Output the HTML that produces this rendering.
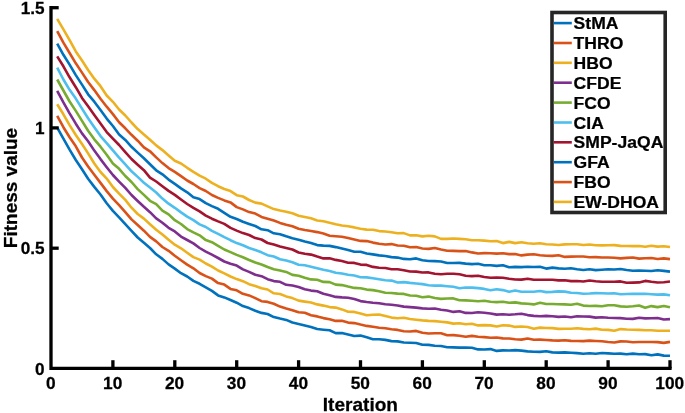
<!DOCTYPE html><html><head><meta charset="utf-8"><title>Fitness value vs Iteration</title>
<style>html,body{margin:0;padding:0;background:#fff;}svg{display:block;}text{font-family:"Liberation Sans",Arial,Helvetica,sans-serif;font-weight:bold;fill:#000;stroke:#000;stroke-width:0.25px;}</style></head><body>
<svg width="685" height="413" viewBox="0 0 685 413">
<rect width="685" height="413" fill="#fff"/>
<g fill="none" stroke-width="2.6" stroke-linejoin="round" stroke-linecap="butt">
<path d="M57.2,127.6 L63.4,138.6 L69.6,149.6 L75.8,160.0 L82.0,169.3 L88.1,178.8 L94.3,186.9 L100.5,194.5 L106.7,203.3 L112.9,210.9 L119.1,217.4 L125.3,224.2 L131.5,230.8 L137.7,237.5 L143.9,242.8 L150.0,248.0 L156.2,254.3 L162.4,258.9 L168.6,264.4 L174.8,268.6 L181.0,273.2 L187.2,276.5 L193.4,280.9 L199.6,283.8 L205.8,287.4 L211.9,290.9 L218.1,295.4 L224.3,297.4 L230.5,300.0 L236.7,302.7 L242.9,306.1 L249.1,308.1 L255.3,310.7 L261.5,312.9 L267.6,314.0 L273.8,317.1 L280.0,318.6 L286.2,319.9 L292.4,322.5 L298.6,323.9 L304.8,325.4 L311.0,326.9 L317.2,329.0 L323.4,329.7 L329.6,330.3 L335.7,333.1 L341.9,333.0 L348.1,334.5 L354.3,336.0 L360.5,335.6 L366.7,337.2 L372.9,339.2 L379.1,339.3 L385.3,339.9 L391.5,341.1 L397.6,341.4 L403.8,342.5 L410.0,342.8 L416.2,343.0 L422.4,344.8 L428.6,344.9 L434.8,345.8 L441.0,346.0 L447.2,347.2 L453.4,347.4 L459.5,347.6 L465.7,347.5 L471.9,347.7 L478.1,349.4 L484.3,349.5 L490.5,349.1 L496.7,350.9 L502.9,350.4 L509.1,350.5 L515.2,350.1 L521.4,350.6 L527.6,351.4 L533.8,351.7 L540.0,351.9 L546.2,351.2 L552.4,352.4 L558.6,352.6 L564.8,352.4 L571.0,352.8 L577.1,353.1 L583.3,353.7 L589.5,353.3 L595.7,353.7 L601.9,353.0 L608.1,353.4 L614.3,353.8 L620.5,353.6 L626.7,354.3 L632.9,353.6 L639.1,354.3 L645.2,354.1 L651.4,355.2 L657.6,354.4 L663.8,355.6 L670.0,355.8" stroke="#0072BD"/>
<path d="M57.2,115.8 L63.4,127.2 L69.6,137.3 L75.8,146.3 L82.0,157.5 L88.1,166.5 L94.3,174.8 L100.5,182.9 L106.7,191.1 L112.9,198.6 L119.1,205.2 L125.3,212.1 L131.5,219.4 L137.7,225.0 L143.9,230.7 L150.0,236.9 L156.2,241.4 L162.4,247.0 L168.6,250.8 L174.8,255.8 L181.0,260.2 L187.2,264.6 L193.4,268.3 L199.6,273.0 L205.8,276.1 L211.9,278.6 L218.1,283.1 L224.3,284.6 L230.5,288.9 L236.7,290.3 L242.9,293.8 L249.1,295.4 L255.3,298.1 L261.5,301.2 L267.6,301.9 L273.8,303.8 L280.0,306.6 L286.2,308.5 L292.4,310.2 L298.6,312.3 L304.8,312.8 L311.0,315.2 L317.2,316.4 L323.4,318.1 L329.6,319.3 L335.7,320.9 L341.9,320.8 L348.1,322.6 L354.3,323.1 L360.5,324.6 L366.7,325.9 L372.9,326.7 L379.1,327.7 L385.3,328.2 L391.5,329.2 L397.6,329.9 L403.8,331.2 L410.0,331.5 L416.2,330.9 L422.4,332.7 L428.6,333.5 L434.8,333.3 L441.0,333.3 L447.2,335.3 L453.4,335.1 L459.5,335.8 L465.7,336.8 L471.9,335.9 L478.1,336.7 L484.3,337.1 L490.5,337.8 L496.7,337.5 L502.9,338.4 L509.1,338.5 L515.2,339.3 L521.4,339.6 L527.6,338.5 L533.8,339.8 L540.0,339.6 L546.2,340.0 L552.4,340.4 L558.6,340.6 L564.8,340.2 L571.0,340.9 L577.1,341.0 L583.3,341.1 L589.5,340.6 L595.7,341.0 L601.9,341.3 L608.1,342.0 L614.3,342.5 L620.5,341.4 L626.7,341.5 L632.9,342.2 L639.1,342.0 L645.2,342.0 L651.4,342.0 L657.6,342.1 L663.8,342.9 L670.0,341.9" stroke="#D95319"/>
<path d="M57.2,104.3 L63.4,114.3 L69.6,125.1 L75.8,135.0 L82.0,144.1 L88.1,153.4 L94.3,163.5 L100.5,172.0 L106.7,178.6 L112.9,187.0 L119.1,193.6 L125.3,199.9 L131.5,207.7 L137.7,214.0 L143.9,218.6 L150.0,224.3 L156.2,229.7 L162.4,234.5 L168.6,239.8 L174.8,244.7 L181.0,248.3 L187.2,252.8 L193.4,257.1 L199.6,259.6 L205.8,263.5 L211.9,266.6 L218.1,270.5 L224.3,273.4 L230.5,276.5 L236.7,279.1 L242.9,281.2 L249.1,284.2 L255.3,286.0 L261.5,288.2 L267.6,289.5 L273.8,293.3 L280.0,294.0 L286.2,296.4 L292.4,298.1 L298.6,300.6 L304.8,301.6 L311.0,302.5 L317.2,304.4 L323.4,305.6 L329.6,307.1 L335.7,307.6 L341.9,309.4 L348.1,311.7 L354.3,311.9 L360.5,313.6 L366.7,315.3 L372.9,314.8 L379.1,314.6 L385.3,316.1 L391.5,317.6 L397.6,318.2 L403.8,317.8 L410.0,319.0 L416.2,319.7 L422.4,320.4 L428.6,320.9 L434.8,321.1 L441.0,321.7 L447.2,322.4 L453.4,323.6 L459.5,323.2 L465.7,324.3 L471.9,323.7 L478.1,325.4 L484.3,325.1 L490.5,325.4 L496.7,326.5 L502.9,325.2 L509.1,325.6 L515.2,326.9 L521.4,326.5 L527.6,327.0 L533.8,328.8 L540.0,327.6 L546.2,328.0 L552.4,328.1 L558.6,328.9 L564.8,328.7 L571.0,328.8 L577.1,328.3 L583.3,328.9 L589.5,329.2 L595.7,328.6 L601.9,329.8 L608.1,329.9 L614.3,330.8 L620.5,329.1 L626.7,329.5 L632.9,329.7 L639.1,329.9 L645.2,330.3 L651.4,330.3 L657.6,330.7 L663.8,330.7 L670.0,330.7" stroke="#EDB120"/>
<path d="M57.2,90.8 L63.4,102.4 L69.6,113.4 L75.8,123.7 L82.0,133.4 L88.1,141.3 L94.3,150.6 L100.5,159.1 L106.7,167.2 L112.9,175.0 L119.1,181.6 L125.3,187.9 L131.5,195.0 L137.7,201.0 L143.9,206.8 L150.0,212.2 L156.2,218.4 L162.4,222.7 L168.6,227.8 L174.8,231.4 L181.0,236.6 L187.2,240.0 L193.4,243.4 L199.6,248.0 L205.8,251.7 L211.9,254.7 L218.1,258.0 L224.3,261.5 L230.5,263.7 L236.7,265.6 L242.9,269.4 L249.1,271.9 L255.3,274.7 L261.5,276.2 L267.6,279.2 L273.8,281.1 L280.0,281.8 L286.2,284.8 L292.4,285.5 L298.6,287.0 L304.8,289.2 L311.0,290.6 L317.2,291.3 L323.4,293.8 L329.6,295.3 L335.7,296.9 L341.9,297.4 L348.1,297.7 L354.3,299.0 L360.5,301.1 L366.7,302.0 L372.9,302.7 L379.1,303.2 L385.3,304.3 L391.5,304.8 L397.6,305.5 L403.8,306.6 L410.0,307.1 L416.2,307.6 L422.4,308.4 L428.6,308.7 L434.8,308.5 L441.0,309.7 L447.2,310.5 L453.4,311.9 L459.5,311.2 L465.7,312.9 L471.9,313.0 L478.1,312.2 L484.3,312.7 L490.5,313.5 L496.7,314.6 L502.9,314.3 L509.1,314.7 L515.2,314.3 L521.4,313.7 L527.6,315.1 L533.8,315.9 L540.0,316.3 L546.2,315.9 L552.4,316.2 L558.6,316.9 L564.8,316.5 L571.0,317.3 L577.1,316.3 L583.3,316.5 L589.5,316.6 L595.7,317.6 L601.9,317.2 L608.1,317.7 L614.3,318.0 L620.5,318.1 L626.7,318.7 L632.9,318.9 L639.1,317.8 L645.2,318.4 L651.4,318.3 L657.6,318.0 L663.8,319.5 L670.0,319.1" stroke="#7E2F8E"/>
<path d="M57.2,79.5 L63.4,90.5 L69.6,101.5 L75.8,110.9 L82.0,120.9 L88.1,130.8 L94.3,139.3 L100.5,146.7 L106.7,154.7 L112.9,163.4 L119.1,168.8 L125.3,176.0 L131.5,182.0 L137.7,189.1 L143.9,194.9 L150.0,200.8 L156.2,204.2 L162.4,210.6 L168.6,214.4 L174.8,220.2 L181.0,224.0 L187.2,229.1 L193.4,232.3 L199.6,235.3 L205.8,240.1 L211.9,242.2 L218.1,245.8 L224.3,249.5 L230.5,252.1 L236.7,254.9 L242.9,257.3 L249.1,260.0 L255.3,262.5 L261.5,264.5 L267.6,267.0 L273.8,269.2 L280.0,270.5 L286.2,271.9 L292.4,274.9 L298.6,275.7 L304.8,277.7 L311.0,279.4 L317.2,279.8 L323.4,281.9 L329.6,282.1 L335.7,284.6 L341.9,285.1 L348.1,286.6 L354.3,287.9 L360.5,288.2 L366.7,289.6 L372.9,290.1 L379.1,291.3 L385.3,292.7 L391.5,293.0 L397.6,293.6 L403.8,293.9 L410.0,295.5 L416.2,295.7 L422.4,297.2 L428.6,296.6 L434.8,298.0 L441.0,298.9 L447.2,298.5 L453.4,298.4 L459.5,300.2 L465.7,300.4 L471.9,300.7 L478.1,301.2 L484.3,300.8 L490.5,301.8 L496.7,302.1 L502.9,301.7 L509.1,302.7 L515.2,302.4 L521.4,303.4 L527.6,303.8 L533.8,304.4 L540.0,302.7 L546.2,304.0 L552.4,304.0 L558.6,304.3 L564.8,304.4 L571.0,304.7 L577.1,303.8 L583.3,305.6 L589.5,306.0 L595.7,305.9 L601.9,306.2 L608.1,305.2 L614.3,305.3 L620.5,306.4 L626.7,306.7 L632.9,306.3 L639.1,305.5 L645.2,307.8 L651.4,306.1 L657.6,307.1 L663.8,306.0 L670.0,307.2" stroke="#77AC30"/>
<path d="M57.2,67.7 L63.4,79.5 L69.6,89.8 L75.8,98.6 L82.0,108.6 L88.1,118.3 L94.3,127.3 L100.5,136.1 L106.7,143.1 L112.9,150.4 L119.1,157.6 L125.3,164.3 L131.5,171.3 L137.7,176.9 L143.9,182.7 L150.0,187.5 L156.2,192.5 L162.4,198.6 L168.6,203.7 L174.8,207.8 L181.0,212.4 L187.2,216.6 L193.4,220.2 L199.6,224.4 L205.8,227.0 L211.9,230.8 L218.1,233.8 L224.3,237.1 L230.5,240.2 L236.7,243.1 L242.9,245.3 L249.1,248.0 L255.3,250.0 L261.5,252.3 L267.6,255.2 L273.8,256.5 L280.0,259.2 L286.2,260.6 L292.4,262.2 L298.6,264.8 L304.8,265.3 L311.0,266.7 L317.2,268.3 L323.4,269.8 L329.6,271.1 L335.7,272.7 L341.9,273.5 L348.1,274.7 L354.3,275.5 L360.5,277.2 L366.7,277.4 L372.9,278.3 L379.1,279.3 L385.3,280.3 L391.5,280.6 L397.6,282.5 L403.8,282.1 L410.0,282.9 L416.2,283.5 L422.4,284.1 L428.6,285.2 L434.8,285.6 L441.0,285.6 L447.2,286.2 L453.4,286.8 L459.5,288.2 L465.7,287.5 L471.9,287.6 L478.1,288.1 L484.3,288.9 L490.5,290.2 L496.7,289.2 L502.9,290.1 L509.1,291.7 L515.2,290.4 L521.4,291.7 L527.6,291.8 L533.8,291.7 L540.0,291.0 L546.2,292.1 L552.4,291.9 L558.6,291.4 L564.8,291.6 L571.0,292.7 L577.1,293.0 L583.3,293.7 L589.5,293.5 L595.7,293.1 L601.9,293.2 L608.1,293.5 L614.3,293.2 L620.5,294.3 L626.7,294.0 L632.9,293.7 L639.1,293.9 L645.2,293.7 L651.4,294.2 L657.6,294.6 L663.8,294.4 L670.0,295.2" stroke="#4DBEEE"/>
<path d="M57.2,56.4 L63.4,66.3 L69.6,77.3 L75.8,87.2 L82.0,97.9 L88.1,106.3 L94.3,115.1 L100.5,123.5 L106.7,132.1 L112.9,138.6 L119.1,145.0 L125.3,152.1 L131.5,159.0 L137.7,164.8 L143.9,170.2 L150.0,177.6 L156.2,181.5 L162.4,186.2 L168.6,190.9 L174.8,194.9 L181.0,199.5 L187.2,204.0 L193.4,207.9 L199.6,211.4 L205.8,215.6 L211.9,218.7 L218.1,221.4 L224.3,223.9 L230.5,227.9 L236.7,230.6 L242.9,233.1 L249.1,235.0 L255.3,238.1 L261.5,239.5 L267.6,243.0 L273.8,244.6 L280.0,246.5 L286.2,247.9 L292.4,249.5 L298.6,252.5 L304.8,253.8 L311.0,254.6 L317.2,256.6 L323.4,258.4 L329.6,258.3 L335.7,259.9 L341.9,261.0 L348.1,262.7 L354.3,262.9 L360.5,264.6 L366.7,264.9 L372.9,266.9 L379.1,267.7 L385.3,268.0 L391.5,269.2 L397.6,269.3 L403.8,270.2 L410.0,271.5 L416.2,271.6 L422.4,272.5 L428.6,272.4 L434.8,273.7 L441.0,274.2 L447.2,273.8 L453.4,273.7 L459.5,274.3 L465.7,275.8 L471.9,276.1 L478.1,275.8 L484.3,277.0 L490.5,277.8 L496.7,277.6 L502.9,277.7 L509.1,278.7 L515.2,279.5 L521.4,279.6 L527.6,278.8 L533.8,279.8 L540.0,279.7 L546.2,279.7 L552.4,279.7 L558.6,280.4 L564.8,280.2 L571.0,281.1 L577.1,281.0 L583.3,281.5 L589.5,280.5 L595.7,281.3 L601.9,281.8 L608.1,281.8 L614.3,281.8 L620.5,281.4 L626.7,282.8 L632.9,282.6 L639.1,282.4 L645.2,280.9 L651.4,281.8 L657.6,282.5 L663.8,282.2 L670.0,281.5" stroke="#A2142F"/>
<path d="M57.2,43.6 L63.4,54.8 L69.6,64.6 L75.8,75.1 L82.0,84.6 L88.1,94.3 L94.3,101.7 L100.5,110.1 L106.7,118.6 L112.9,126.0 L119.1,134.5 L125.3,139.9 L131.5,146.8 L137.7,152.6 L143.9,158.3 L150.0,164.3 L156.2,170.3 L162.4,174.3 L168.6,179.6 L174.8,183.9 L181.0,188.4 L187.2,192.3 L193.4,197.3 L199.6,199.1 L205.8,203.2 L211.9,206.1 L218.1,208.8 L224.3,212.9 L230.5,216.8 L236.7,219.0 L242.9,221.8 L249.1,223.9 L255.3,226.0 L261.5,229.3 L267.6,230.2 L273.8,233.3 L280.0,234.2 L286.2,236.3 L292.4,238.2 L298.6,239.7 L304.8,241.5 L311.0,243.1 L317.2,245.1 L323.4,245.6 L329.6,245.9 L335.7,247.1 L341.9,248.6 L348.1,250.0 L354.3,251.8 L360.5,251.7 L366.7,253.5 L372.9,254.4 L379.1,255.4 L385.3,256.0 L391.5,257.1 L397.6,257.6 L403.8,258.9 L410.0,259.2 L416.2,258.4 L422.4,260.3 L428.6,261.0 L434.8,261.1 L441.0,261.5 L447.2,263.0 L453.4,263.0 L459.5,262.9 L465.7,263.6 L471.9,264.1 L478.1,263.8 L484.3,265.3 L490.5,265.3 L496.7,265.9 L502.9,265.2 L509.1,267.3 L515.2,266.9 L521.4,267.1 L527.6,266.7 L533.8,267.0 L540.0,266.8 L546.2,268.6 L552.4,267.6 L558.6,268.4 L564.8,268.8 L571.0,268.3 L577.1,269.3 L583.3,270.0 L589.5,269.3 L595.7,270.1 L601.9,269.7 L608.1,269.3 L614.3,269.5 L620.5,269.0 L626.7,270.0 L632.9,270.8 L639.1,270.5 L645.2,270.7 L651.4,271.0 L657.6,270.2 L663.8,270.9 L670.0,271.6" stroke="#0072BD"/>
<path d="M57.2,31.1 L63.4,42.7 L69.6,53.0 L75.8,63.3 L82.0,72.6 L88.1,82.0 L94.3,90.1 L100.5,98.8 L106.7,106.7 L112.9,114.1 L119.1,122.2 L125.3,128.3 L131.5,134.8 L137.7,140.7 L143.9,147.3 L150.0,151.3 L156.2,157.4 L162.4,163.1 L168.6,168.1 L174.8,171.9 L181.0,176.1 L187.2,180.5 L193.4,184.0 L199.6,188.1 L205.8,191.0 L211.9,195.0 L218.1,197.9 L224.3,200.4 L230.5,202.4 L236.7,207.1 L242.9,209.4 L249.1,212.1 L255.3,213.6 L261.5,216.9 L267.6,218.7 L273.8,220.5 L280.0,222.9 L286.2,224.7 L292.4,226.2 L298.6,228.8 L304.8,230.0 L311.0,231.0 L317.2,232.1 L323.4,233.6 L329.6,235.8 L335.7,236.3 L341.9,236.8 L348.1,238.1 L354.3,239.5 L360.5,240.9 L366.7,241.1 L372.9,242.6 L379.1,243.8 L385.3,244.5 L391.5,244.1 L397.6,245.5 L403.8,245.7 L410.0,247.2 L416.2,247.1 L422.4,248.5 L428.6,248.9 L434.8,248.0 L441.0,249.5 L447.2,250.7 L453.4,250.9 L459.5,251.1 L465.7,251.1 L471.9,252.4 L478.1,253.5 L484.3,253.1 L490.5,253.3 L496.7,253.6 L502.9,253.2 L509.1,254.1 L515.2,254.1 L521.4,255.4 L527.6,254.6 L533.8,254.2 L540.0,255.2 L546.2,255.7 L552.4,255.9 L558.6,255.3 L564.8,256.9 L571.0,256.6 L577.1,256.5 L583.3,256.5 L589.5,257.3 L595.7,257.1 L601.9,257.5 L608.1,257.5 L614.3,257.7 L620.5,258.4 L626.7,257.9 L632.9,257.5 L639.1,258.6 L645.2,258.3 L651.4,258.0 L657.6,259.0 L663.8,258.4 L670.0,259.1" stroke="#D95319"/>
<path d="M57.2,18.8 L63.4,29.4 L69.6,40.1 L75.8,51.4 L82.0,60.5 L88.1,70.0 L94.3,78.7 L100.5,86.2 L106.7,95.5 L112.9,101.8 L119.1,109.5 L125.3,115.5 L131.5,122.5 L137.7,129.1 L143.9,134.4 L150.0,139.7 L156.2,145.4 L162.4,150.1 L168.6,155.4 L174.8,160.8 L181.0,163.5 L187.2,167.8 L193.4,171.9 L199.6,175.7 L205.8,178.7 L211.9,182.9 L218.1,186.2 L224.3,189.0 L230.5,191.1 L236.7,195.2 L242.9,196.5 L249.1,200.0 L255.3,202.6 L261.5,203.6 L267.6,206.4 L273.8,209.1 L280.0,210.5 L286.2,211.7 L292.4,213.3 L298.6,215.8 L304.8,217.0 L311.0,218.3 L317.2,220.5 L323.4,221.3 L329.6,222.8 L335.7,224.3 L341.9,225.5 L348.1,226.3 L354.3,227.4 L360.5,228.7 L366.7,229.6 L372.9,229.7 L379.1,231.1 L385.3,231.5 L391.5,232.2 L397.6,233.2 L403.8,233.1 L410.0,235.4 L416.2,235.2 L422.4,236.4 L428.6,235.8 L434.8,236.4 L441.0,238.9 L447.2,238.9 L453.4,238.5 L459.5,238.9 L465.7,239.3 L471.9,240.2 L478.1,240.3 L484.3,240.6 L490.5,241.3 L496.7,241.1 L502.9,243.1 L509.1,241.9 L515.2,243.1 L521.4,242.3 L527.6,243.2 L533.8,243.8 L540.0,243.3 L546.2,244.2 L552.4,244.5 L558.6,245.0 L564.8,244.4 L571.0,244.3 L577.1,244.2 L583.3,245.0 L589.5,244.5 L595.7,245.2 L601.9,245.4 L608.1,245.2 L614.3,245.1 L620.5,245.9 L626.7,246.0 L632.9,246.1 L639.1,246.0 L645.2,246.7 L651.4,245.7 L657.6,246.6 L663.8,246.2 L670.0,247.0" stroke="#EDB120"/>
</g>
<g stroke="#000" stroke-width="3.3" fill="none" stroke-linecap="butt">
<path d="M51.0,6.1 V368.4 H671.6"/>
<path d="M112.9,368.4 V360.2"/>
<path d="M174.8,368.4 V360.2"/>
<path d="M236.7,368.4 V360.2"/>
<path d="M298.6,368.4 V360.2"/>
<path d="M360.5,368.4 V360.2"/>
<path d="M422.4,368.4 V360.2"/>
<path d="M484.3,368.4 V360.2"/>
<path d="M546.2,368.4 V360.2"/>
<path d="M608.1,368.4 V360.2"/>
<path d="M670.0,368.4 V360.2"/>
<path d="M51.0,248.2 H58.7"/>
<path d="M51.0,127.9 H58.7"/>
<path d="M51.0,7.7 H58.7"/>
</g>
<text transform="translate(50.8,389.0) scale(1.050,1)" font-size="16.5" text-anchor="middle">0</text>
<text transform="translate(112.7,389.0) scale(1.050,1)" font-size="16.5" text-anchor="middle">10</text>
<text transform="translate(174.6,389.0) scale(1.050,1)" font-size="16.5" text-anchor="middle">20</text>
<text transform="translate(236.5,389.0) scale(1.050,1)" font-size="16.5" text-anchor="middle">30</text>
<text transform="translate(298.4,389.0) scale(1.050,1)" font-size="16.5" text-anchor="middle">40</text>
<text transform="translate(360.3,389.0) scale(1.050,1)" font-size="16.5" text-anchor="middle">50</text>
<text transform="translate(422.2,389.0) scale(1.050,1)" font-size="16.5" text-anchor="middle">60</text>
<text transform="translate(484.1,389.0) scale(1.050,1)" font-size="16.5" text-anchor="middle">70</text>
<text transform="translate(546.0,389.0) scale(1.050,1)" font-size="16.5" text-anchor="middle">80</text>
<text transform="translate(607.9,389.0) scale(1.050,1)" font-size="16.5" text-anchor="middle">90</text>
<text transform="translate(669.8,389.0) scale(1.050,1)" font-size="16.5" text-anchor="middle">100</text>
<text transform="translate(44.6,374.6) scale(1.040,1)" font-size="16.5" text-anchor="end">0</text>
<text transform="translate(44.6,254.4) scale(1.040,1)" font-size="16.5" text-anchor="end">0.5</text>
<text transform="translate(44.6,134.1) scale(1.040,1)" font-size="16.5" text-anchor="end">1</text>
<text transform="translate(44.6,13.9) scale(1.040,1)" font-size="16.5" text-anchor="end">1.5</text>
<text transform="translate(360.4,410.6) scale(1.060,1)" font-size="18" text-anchor="middle">Iteration</text>
<text transform="translate(16.6,188.0) rotate(-90) scale(1.055,1)" font-size="18" text-anchor="middle">Fitness value</text>
<rect x="552" y="12.5" width="113.2" height="200" fill="#fff" stroke="#262626" stroke-width="3.6"/>
<path d="M553.8,23.1 H571.8" stroke="#0072BD" stroke-width="2.6" fill="none"/>
<text transform="translate(573.6,29.2) scale(1.045,1)" font-size="16.8" text-anchor="start">StMA</text>
<path d="M553.8,43.0 H571.8" stroke="#D95319" stroke-width="2.6" fill="none"/>
<text transform="translate(573.6,49.1) scale(1.045,1)" font-size="16.8" text-anchor="start">THRO</text>
<path d="M553.8,62.8 H571.8" stroke="#EDB120" stroke-width="2.6" fill="none"/>
<text transform="translate(573.6,68.9) scale(1.045,1)" font-size="16.8" text-anchor="start">HBO</text>
<path d="M553.8,82.7 H571.8" stroke="#7E2F8E" stroke-width="2.6" fill="none"/>
<text transform="translate(573.6,88.8) scale(1.045,1)" font-size="16.8" text-anchor="start">CFDE</text>
<path d="M553.8,102.6 H571.8" stroke="#77AC30" stroke-width="2.6" fill="none"/>
<text transform="translate(573.6,108.7) scale(1.045,1)" font-size="16.8" text-anchor="start">FCO</text>
<path d="M553.8,122.5 H571.8" stroke="#4DBEEE" stroke-width="2.6" fill="none"/>
<text transform="translate(573.6,128.6) scale(1.045,1)" font-size="16.8" text-anchor="start">CIA</text>
<path d="M553.8,142.3 H571.8" stroke="#A2142F" stroke-width="2.6" fill="none"/>
<text transform="translate(573.6,148.4) scale(1.045,1)" font-size="16.8" text-anchor="start">SMP-JaQA</text>
<path d="M553.8,162.2 H571.8" stroke="#0072BD" stroke-width="2.6" fill="none"/>
<text transform="translate(573.6,168.3) scale(1.045,1)" font-size="16.8" text-anchor="start">GFA</text>
<path d="M553.8,182.1 H571.8" stroke="#D95319" stroke-width="2.6" fill="none"/>
<text transform="translate(573.6,188.2) scale(1.045,1)" font-size="16.8" text-anchor="start">FBO</text>
<path d="M553.8,201.9 H571.8" stroke="#EDB120" stroke-width="2.6" fill="none"/>
<text transform="translate(573.6,208.0) scale(1.045,1)" font-size="16.8" text-anchor="start">EW-DHOA</text>
</svg></body></html>
